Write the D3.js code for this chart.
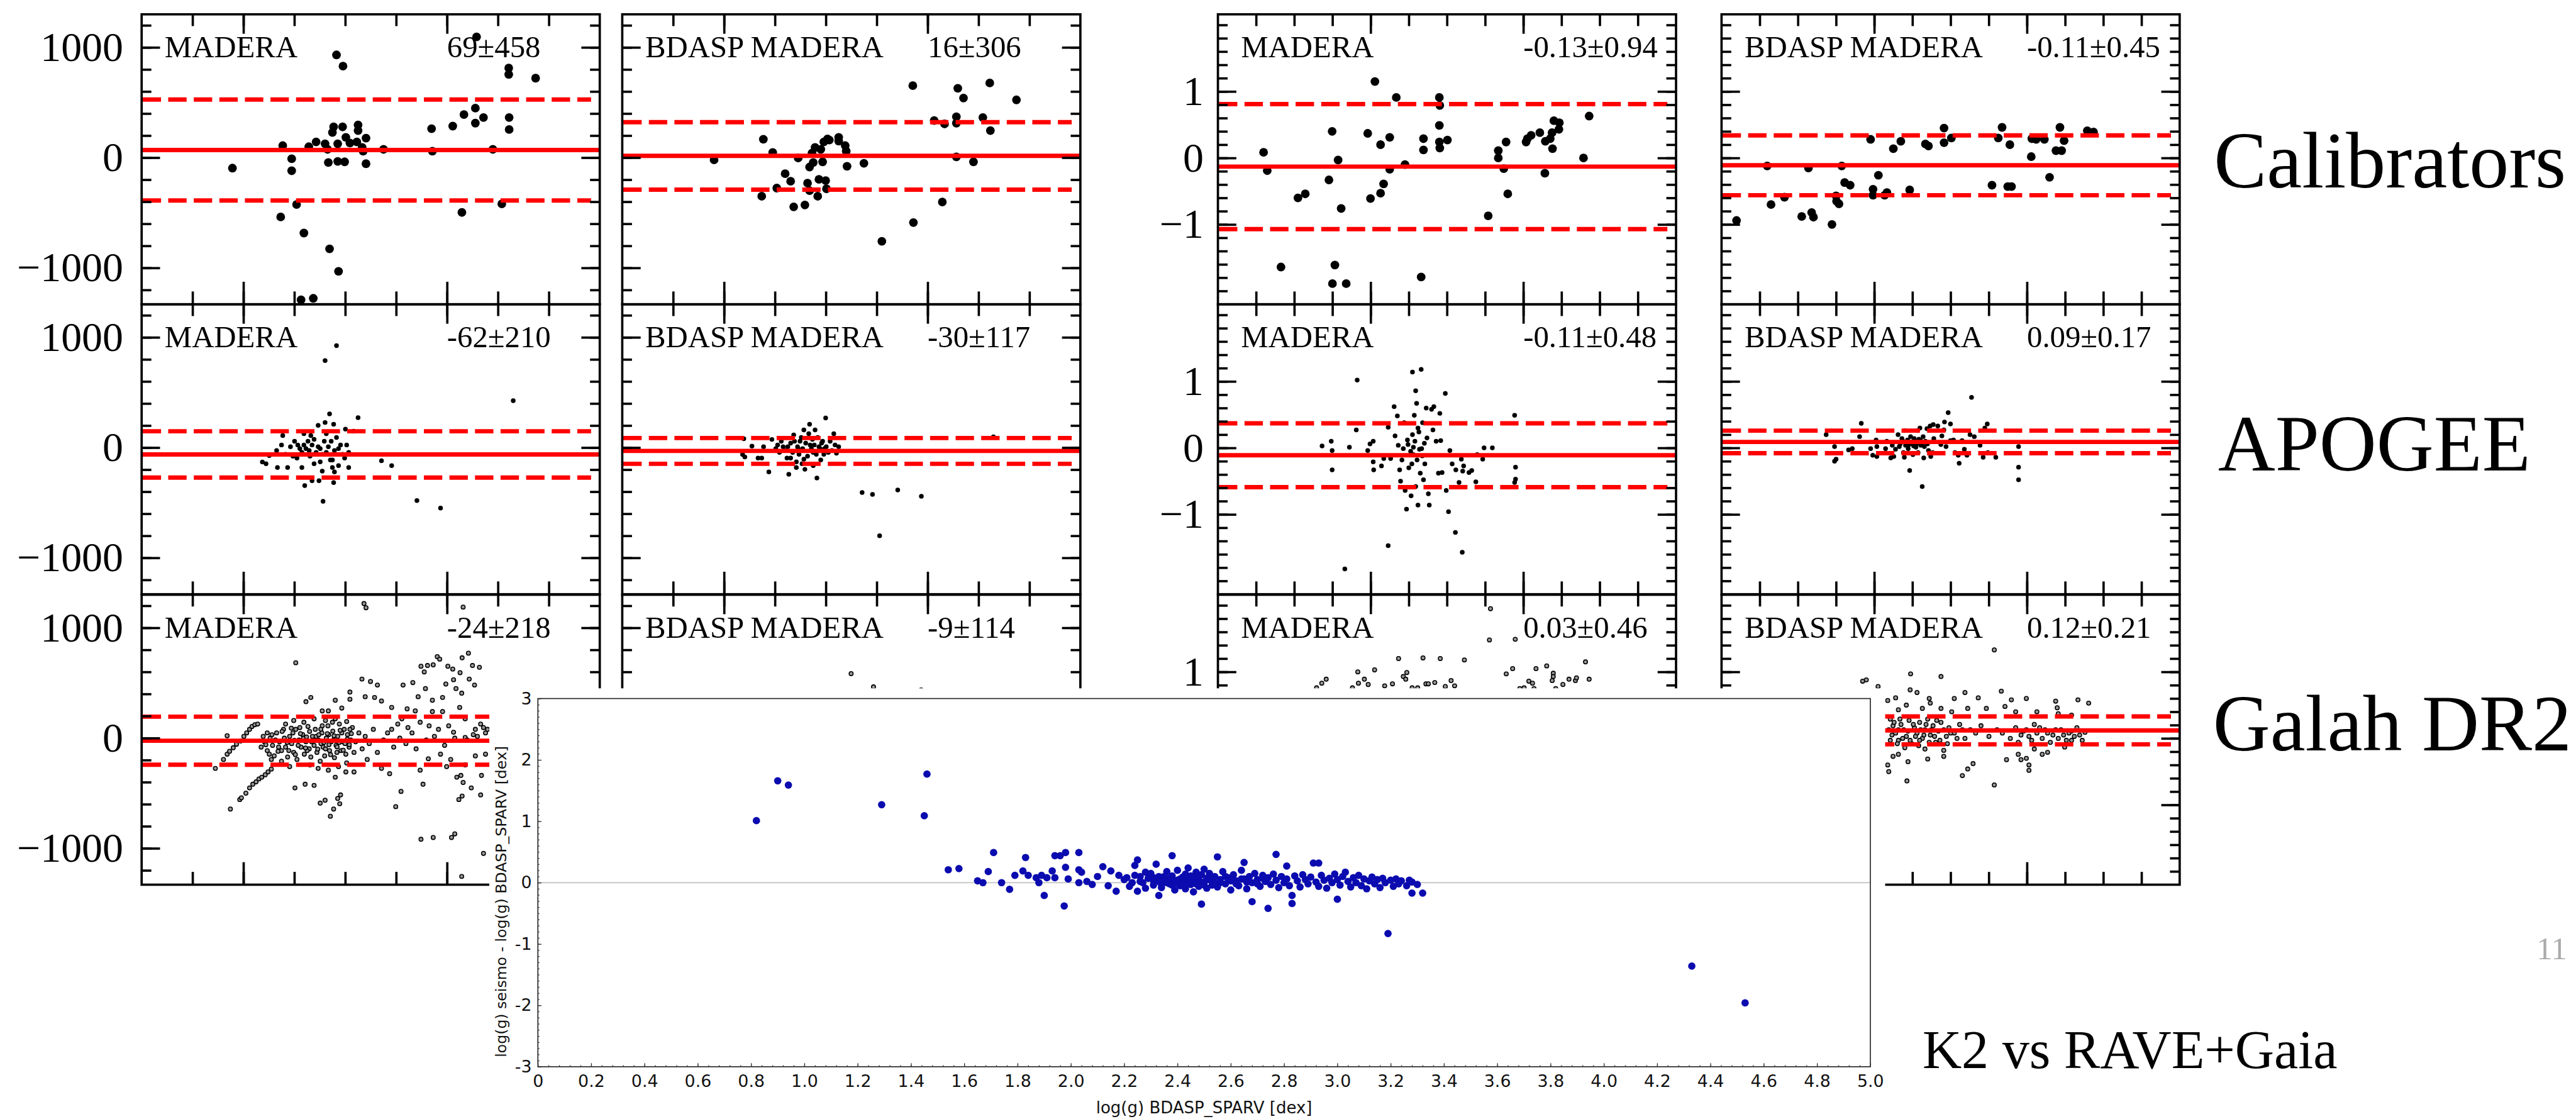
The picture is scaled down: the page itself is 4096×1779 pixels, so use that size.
<!DOCTYPE html>
<html>
<head>
<meta charset="utf-8">
<script src="https://cdn.jsdelivr.net/npm/d3@7"></script>
<style>
  body { margin: 0; background: #fff; }
  svg { display: block; }
</style>
</head>
<body>
<div id="container"></div>
<script>
// ---- data (Teff residuals in K, log g residuals in dex) ----
const rowNames = ['Calibrators', 'APOGEE', 'Galah DR2'];
const panelNames = ['MADERA', 'BDASP MADERA', 'MADERA', 'BDASP MADERA'];
const means = [[69, 16, -0.13, -0.11], [-62, -30, -0.11, 0.09], [-24, -9, 0.03, 0.12]];
const sigmas = [[458, 306, 0.94, 0.45], [210, 117, 0.48, 0.17], [218, 114, 0.46, 0.21]];

const teffTicksMajor = [4000, 5000];
const teffTicksMinor = [3750, 4000, 4250, 4500, 4750, 5000, 5250, 5500];
const loggXTicksMajor = [4000, 5000];
const loggXTicksMinor = [3250, 3500, 3750, 4000, 4250, 4500, 4750, 5000, 5250, 5500, 5750];
const dTeffTicksMajor = [-1000, 0, 1000];
const dTeffTicksMinor = [-1200, -1000, -800, -600, -400, -200, 0, 200, 400, 600, 800, 1000, 1200];
const dLoggTicksMajor = [-1, 0, 1];
const dLoggTicksMinor = [-2, -1.8, -1.6, -1.4, -1.2, -1, -0.8, -0.6, -0.4, -0.2, 0, 0.2, 0.4, 0.6, 0.8, 1, 1.2, 1.4, 1.6, 1.8, 2];
const k2XTicks = [0, 0.2, 0.4, 0.6, 0.8, 1.0, 1.2, 1.4, 1.6, 1.8, 2.0, 2.2, 2.4, 2.6, 2.8, 3.0, 3.2, 3.4, 3.6, 3.8, 4.0, 4.2, 4.4, 4.6, 4.8, 5.0];
const k2YTicks = [-3, -2, -1, 0, 1, 2, 3];

const calTeffMadera = [[3946,-95],[4193,109],[4237,-10],[4237,-119],[4261,-425],[4183,-538],[4297,-684],[4423,-827],[4467,-1031],[4343,-1276],[4283,-1290],[4457,932],[4489,830],[4321,99],[4357,143],[4401,126],[4413,75],[4417,-44],[4437,228],[4443,279],[4463,126],[4463,-34],[4487,279],[4497,-38],[4503,184],[4523,133],[4563,296],[4563,245],[4557,143],[4583,92],[4588,58],[4602,177],[4602,-55],[4688,75],[4924,262],[4928,58],[5028,286],[5083,391],[5139,449],[5139,313],[5179,364],[5145,1095],[5225,75],[5073,-497],[5269,-419],[5303,813],[5303,755],[5435,721],[5305,364],[5305,255]];
const calTeffBdasp = [[3951,-20],[4193,167],[4239,47],[4185,-350],[4259,-276],[4300,-146],[4327,-214],[4342,-446],[4364,-3],[4397,-429],[4410,-231],[4420,-300],[4420,-85],[4432,41],[4438,-44],[4447,92],[4460,-350],[4466,-197],[4475,75],[4484,-38],[4490,143],[4499,-208],[4503,-283],[4508,170],[4517,160],[4563,184],[4563,150],[4595,109],[4600,58],[4604,-78],[4687,-51],[4775,-759],[4927,653],[4930,-589],[5032,337],[5083,306],[5072,-402],[5141,371],[5141,313],[5141,7],[5148,629],[5176,541],[5225,-38],[5271,364],[5305,677],[5308,245],[5436,524]];
const calLoggMadera = [[3299,0.085],[3323,-0.19],[3413,-1.64],[3524,-0.60],[3572,-0.54],[3727,-0.33],[3748,0.40],[3766,-1.61],[3750,-1.89],[3840,-1.89],[3787,-0.03],[3807,-0.76],[3981,0.37],[3999,-0.61],[4028,1.15],[4065,0.20],[4065,-0.53],[4085,-0.39],[4125,0.31],[4125,-0.17],[4168,0.91],[4225,-0.10],[4331,-1.79],[4346,0.29],[4346,0.12],[4450,0.91],[4453,0.79],[4450,0.49],[4450,0.24],[4453,0.15],[4503,0.27],[4770,-0.87],[4836,0.11],[4836,0.0],[4872,-0.16],[4887,0.24],[4898,-0.54],[5018,0.24],[5027,0.29],[5051,0.34],[5108,0.38],[5141,-0.23],[5144,0.25],[5176,0.29],[5188,0.38],[5191,0.14],[5200,0.56],[5233,0.43],[5236,0.53],[5394,0.0],[5431,0.63]];
const calLoggBdasp = [[3098,-0.94],[3299,-0.12],[3324,-0.70],[3412,-0.59],[3525,-0.88],[3569,-0.15],[3590,-0.82],[3602,-0.89],[3723,-1.00],[3750,-0.57],[3753,-0.65],[3769,-0.69],[3787,-0.12],[3806,-0.37],[3842,-0.41],[3976,0.28],[3992,-0.47],[3992,-0.56],[4027,-0.26],[4068,-0.56],[4083,-0.52],[4125,0.14],[4174,0.25],[4232,-0.48],[4335,0.21],[4355,0.18],[4457,0.45],[4457,0.23],[4505,0.30],[4771,-0.41],[4812,0.30],[4837,0.46],[4874,-0.43],[4899,-0.43],[4888,0.20],[5028,0.02],[5032,0.29],[5060,0.28],[5114,0.28],[5148,-0.29],[5190,0.11],[5216,0.46],[5227,0.11],[5243,0.26],[5395,0.41],[5436,0.39]];

const apoTeffMadera = [[4457,925],[4401,789],[5325,425],[4563,272],[4423,306],[4401,228],[4443,211],[4501,167],[4541,149],[4367,201],[4297,126],[4193,109],[4187,24],[4163,-27],[4127,-72],[4093,-130],[4111,-146],[4167,-180],[4217,-180],[4243,-78],[4287,-180],[4301,-344],[4337,-300],[4371,-300],[4391,-487],[4443,-317],[4447,-221],[4467,-163],[4517,-180],[4678,-119],[4728,-163],[4852,-480],[4968,-548],[4267,24],[4307,-10],[4327,-78],[4347,75],[4377,-10],[4397,58],[4407,-44],[4427,-112],[4457,92],[4467,-10],[4487,-61],[4507,24],[4317,58],[4287,-44],[4263,-95],[4347,-146],[4387,-214],[4437,-180],[4231,7],[4251,58],[4277,-10],[4297,24],[4323,-27],[4337,24],[4357,-44],[4367,7],[4387,-61],[4417,7],[4431,58],[4447,-27],[4477,24],[4497,-95],[4517,-44],[4207,-61],[4331,109],[4407,126],[4437,-112],[4377,-129]];
const apoTeffBdasp = [[4097,81],[4091,-62],[4102,-85],[4137,13],[4167,-95],[4185,-95],[4194,7],[4220,-221],[4235,74],[4254,-10],[4272,-44],[4290,7],[4309,-95],[4318,-242],[4327,41],[4342,115],[4355,-180],[4364,-10],[4373,58],[4383,-146],[4392,160],[4397,-197],[4420,211],[4423,24],[4438,-44],[4447,160],[4456,-276],[4466,7],[4475,-112],[4484,58],[4493,-10],[4499,269],[4512,-44],[4539,126],[4563,7],[4678,-408],[4729,-425],[4764,-800],[4853,-385],[4969,-442],[5323,98],[4263,24],[4281,58],[4300,-27],[4313,7],[4337,-44],[4346,58],[4361,7],[4368,-61],[4379,92],[4386,-10],[4401,41],[4410,-78],[4416,126],[4429,-10],[4434,75],[4443,24],[4453,-61],[4460,92],[4471,-10],[4479,41],[4490,-61],[4502,7],[4521,58],[4530,-27],[4545,24],[4552,-51],[4327,-95],[4355,-129],[4438,-163],[4392,-105]];
const apoLoggMadera = [[3682,0.03],[3742,0.10],[3748,-0.04],[3748,-0.33],[3861,0.01],[3912,1.02],[3906,0.27],[3981,-0.04],[3996,0.06],[4017,0.10],[4017,-0.21],[4020,-0.33],[4071,-0.27],[4086,-0.16],[4115,0.31],[4115,-1.47],[4131,-0.16],[4154,0.62],[4160,0.18],[4175,0.48],[4181,0.04],[4190,-0.33],[4196,-0.50],[4205,-0.18],[4214,-0.01],[4220,0.38],[4226,-0.64],[4235,-0.92],[4241,0.12],[4250,-0.30],[4265,-0.72],[4274,0.20],[4274,1.14],[4280,0.01],[4280,-0.10],[4286,0.49],[4295,0.86],[4295,-0.58],[4301,0.67],[4304,-0.18],[4310,-0.86],[4316,0.24],[4325,-0.38],[4331,1.18],[4334,-0.01],[4340,0.38],[4346,-0.48],[4355,-0.24],[4364,0.60],[4369,0.15],[4378,-0.69],[4384,-0.86],[4399,0.58],[4408,0.27],[4414,0.62],[4429,0.10],[4444,-0.38],[4453,0.52],[4459,0.11],[4468,-0.37],[4489,0.82],[4495,-0.64],[4510,-0.96],[4519,-0.04],[4534,-0.24],[4555,-1.27],[4558,-0.33],[4579,-0.52],[4594,-0.17],[4600,-1.57],[4603,-0.35],[4609,-0.27],[4644,-0.37],[4662,-0.34],[4689,-0.51],[4698,-0.10],[4734,-0.17],[4743,0.00],[4797,0.00],[4943,0.49],[4949,-0.29],[4949,-0.47],[4943,-0.52],[3831,-1.82],[4245,0.05],[4262,-0.05],[4290,0.10],[4320,-0.02],[4352,0.07],[4270,-0.24],[4310,0.30],[4338,-0.12]];
const apoLoggBdasp = [[3685,0.20],[3740,0.02],[3740,-0.20],[3750,-0.17],[3832,-0.03],[3856,-0.01],[3904,0.17],[3915,0.37],[3976,-0.01],[3990,-0.11],[4017,-0.13],[4017,0.02],[4012,0.12],[4074,-0.01],[4082,0.10],[4108,-0.15],[4118,0.04],[4128,-0.13],[4139,-0.02],[4156,0.20],[4164,0.02],[4181,0.14],[4191,-0.07],[4197,-0.14],[4201,0.26],[4211,0.08],[4222,-0.01],[4232,-0.34],[4238,0.17],[4246,0.07],[4253,-0.10],[4262,0.14],[4273,0.01],[4283,0.26],[4287,-0.07],[4299,0.30],[4303,0.11],[4314,-0.58],[4320,0.17],[4324,-0.15],[4328,0.02],[4345,0.29],[4355,-0.04],[4366,0.33],[4370,-0.13],[4382,-0.07],[4386,0.35],[4390,0.14],[4416,0.33],[4436,0.05],[4443,0.18],[4456,0.27],[4460,0.39],[4470,0.02],[4484,0.53],[4499,0.36],[4499,0.11],[4519,0.12],[4529,-0.07],[4550,-0.11],[4556,-0.23],[4575,0.11],[4590,-0.02],[4607,-0.11],[4627,0.20],[4637,0.76],[4655,0.17],[4693,0.04],[4713,-0.14],[4724,0.30],[4740,0.36],[4744,-0.07],[4796,-0.14],[4945,0.02],[4945,-0.29],[4945,-0.48],[4170,0.06],[4185,0.11],[4205,0.04],[4218,0.12],[4228,0.05],[4242,0.09],[4258,0.03],[4268,0.10],[4278,0.06],[4292,0.13],[4305,0.04],[4318,0.08],[4335,0.10],[4348,0.06]];

const galTeffMadera = [[3862,-275],[3902,-194],[3920,-146],[3932,-120],[3950,-88],[3966,-56],[3986,-27],[4002,15],[4016,47],[4030,79],[4042,105],[4056,121],[4070,127],[3920,21],
  [3936,-644],[3982,-558],[3990,-542],[4012,-500],[4030,-452],[4046,-419],[4062,-397],[4076,-371],[4090,-355],[4107,-333],[4121,-307],[4137,-281],
  [4257,683],[4331,368],[4307,330],[4387,246],[4417,246],[4451,343],[4483,272],[4523,417],[4523,352],[4582,535],[4624,513],[4658,481],[4598,375],[4644,368],[4678,336],[4728,278],[4784,481],[4832,503],[4858,375],[4872,651],[4888,600],[4904,658],[4932,664],[4952,738],[4964,716],[4994,490],[5004,651],[5028,626],[5032,529],[5044,449],[5064,593],[5074,728],[5105,770],[5109,535],[5125,658],[5135,481],[5159,642],[5072,407],[5062,278],[4978,368],[4928,343],[4894,449],[4844,246],[4804,265],[4778,175],[4928,240],[4978,240],[5032,53],[5089,175],[5139,79],[5165,127],[5189,47],[4728,79],[4758,127],[4808,95],[4868,143],[4912,111],[4958,79],[5008,111],[5089,5],[5149,15],[5199,79],[4592,1220],[4602,1182],[5079,1188],
  [4253,-452],[4303,-419],[4347,-429],[4377,-590],[4401,-564],[4427,-709],[4443,-644],[4463,-548],[4473,-596],[4477,-516],[4451,-355],[4503,-307],[4543,-307],[4608,-194],[4678,-275],[4718,-323],[4748,-622],[4774,-484],[4868,-291],[4882,-419],[4908,-188],[4968,-146],[4998,-259],[5018,-194],[5048,-355],[5068,-339],[5079,-403],[5058,-558],[5074,-526],[5119,-452],[5165,-516],[5179,-1046],[4872,-918],[4932,-902],[5022,-902],[5038,-869],[5072,-1255],[5089,-243],[5139,-162],[5169,-339],[5189,-146],
  [4087,-82],[4103,-34],[4117,-114],[4131,-1],[4143,-66],[4151,-162],[4163,47],[4177,-34],[4187,-114],[4197,79],[4207,-82],[4217,-172],[4227,15],[4237,-50],[4247,-130],[4257,79],[4263,-194],[4273,-18],[4283,-82],[4291,31],[4299,-146],[4307,-34],[4317,105],[4323,-98],[4331,-172],[4339,15],[4347,-66],[4353,79],[4361,-130],[4369,-18],[4377,-210],[4385,47],[4391,-82],[4399,-162],[4407,-1],[4415,111],[4423,-114],[4431,-34],[4439,63],[4447,-178],[4455,-66],[4463,15],[4471,127],[4479,-114],[4487,-34],[4495,79],[4503,-146],[4511,31],[4519,-82],[4527,-18],[4535,95],[4543,-130],
  [4207,127],[4247,159],[4297,143],[4347,175],[4403,159],[4451,175],[4507,150],[4327,-243],[4367,-275],[4417,-291],[4467,-259],[4507,-226],[4227,-259],[4187,-210],[4137,-194],[4117,47],[4551,-34],[4567,47],[4583,-98],[4598,15],[4618,-50],[4638,79],[4658,-130],[4688,-18],[4708,47],[4738,-82],[4768,-1],[4798,-50],[4828,47],[4848,-98],[4898,-18],[4938,15],[4988,-66],[5038,-1],[5099,-18],[5129,31],[5179,95],
  [4097,15],[4127,-146],[4157,-18],[4173,-82],[4201,-1],[4223,-114],[4243,47],[4269,-66],[4295,-1],[4313,-114],[4335,-34],[4357,15],[4381,-50],[4403,-98],[4419,31],[4443,-18],[4459,-130],[4483,47],[4499,-50],[4523,79],[4277,95],[4387,111],[4437,143],
  [4110,-60],[4140,30],[4170,-120],[4190,60],[4215,-40],[4235,90],[4255,-150],[4280,40],[4305,-90],[4325,60],[4345,-20],[4365,-100],[4380,80],[4395,-40],[4412,40],[4428,-150],[4445,20],[4460,-80],[4475,70],[4490,-110],[4510,-10],[4530,40],[4250,-20],[4310,10],[4370,30],[4420,-60],[4470,-40],[4520,-60]];
const galTeffBdasp = [[4624,584],[4734,464],[4968,436]];
const galLoggMadera = [[4785,1.95],[4778,1.48],[4947,1.49],[4183,1.20],[4343,1.21],[4456,1.20],[4614,1.18],[5407,1.15],[3916,1.00],[4026,1.03],[3709,0.89],[3680,0.83],[3646,0.76],[3959,0.89],[3920,0.83],[3984,0.81],[4092,0.79],[4143,0.82],[4214,0.93],[4237,0.99],[4230,0.89],[4272,0.76],[4308,0.76],[4362,0.82],[4378,0.82],[4420,0.84],[4527,0.87],[4550,0.79],[4489,0.78],[3881,0.76],[4888,0.97],[4930,1.05],[5083,1.05],[5153,1.09],[5196,0.98],[5196,0.93],[5189,0.87],[5036,0.86],[5060,0.83],[5259,0.81],[5299,0.89],[5341,0.87],[5348,0.91],[5431,0.89],[4977,0.75],[5005,0.76],[5070,0.75],[5212,0.75]];
const galLoggBdasp = [[3924,0.86],[3948,0.88],[4025,0.78],[4786,1.33],[4238,0.97],[4437,0.93],[4235,0.73],[4280,0.69],[4360,0.60],[4524,0.60],[4594,0.69],[4681,0.61],[4832,0.71],[4898,0.58],[4996,0.60],[5188,0.56],[5198,0.46],[5334,0.58],[5404,0.53],[4088,0.57],[4140,0.61],[4158,0.43],[4210,0.50],[4315,0.45],[4367,0.53],[4437,0.45],[4507,0.40],[4612,0.45],[4734,0.45],[4856,0.48],[4926,0.40],[5065,0.40],[5205,0.37],[5292,0.35],
  [4088,-0.40],[4095,-0.50],[4123,-0.27],[4158,-0.24],[4214,-0.64],[4221,-0.35],[4332,-0.16],[4350,-0.31],[4455,-0.27],[4455,-0.18],[4577,-0.56],[4612,-0.46],[4647,-0.38],[4786,-0.70],[4866,-0.32],[4943,-0.24],[4961,-0.32],[4996,-0.30],[5013,-0.48],[5013,-0.40],[5048,-0.16],[5100,-0.24],[5135,-0.21],[5247,-0.13],[5292,-0.03],
  [4105,0.29],[4123,0.19],[4140,0.08],[4158,-0.03],[4175,0.21],[4193,0.13],[4210,0.03],[4228,0.27],[4245,-0.08],[4263,0.16],[4280,0.08],[4297,0.24],[4315,0.00],[4332,0.13],[4350,0.29],[4367,0.05],[4385,0.19],[4402,-0.06],[4420,0.11],[4437,0.24],[4472,0.03],[4489,0.16],[4524,0.08],[4559,0.21],[4594,0.00],[4629,0.13],[4664,0.08],[4699,0.19],[4751,0.03],[4804,0.13],[4839,0.08],[4891,0.00],[4926,0.16],[4961,0.05],[4996,0.13],[5031,-0.03],[5048,0.21],[5065,0.08],[5100,0.00],[5118,0.13],[5153,-0.06],[5170,0.05],[5205,0.00],[5223,0.13],[5258,-0.03],[5275,0.08],[5310,0.03],[5327,0.16],[5345,0.05],[4105,-0.03],[4158,0.13],[4297,-0.03],
  [4095,0.13],[4116,0.05],[4130,0.24],[4151,-0.08],[4168,0.29],[4186,0.00],[4200,-0.14],[4221,0.11],[4235,-0.03],[4256,0.21],[4270,0.03],[4291,-0.11],[4304,0.13],[4325,0.05],[4339,0.21],[4360,-0.06],[4374,0.13],[4395,0.03],[4409,0.27],[4430,-0.03],[4455,0.13],[4479,-0.08],[4500,0.08],[4542,0.00],[4577,0.13],
  [4943,-0.06],[4978,0.11],[5013,0.03],[5083,0.16],[5135,0.08],[5188,0.13],[5240,0.05],[5292,0.11],[5362,-0.03],[5380,0.09]];

// K2 seismic log g minus BDASP_SPARV log g, against BDASP_SPARV log g
const k2Points = [[0.82,1.01],[0.90,1.66],[0.94,1.59],[1.29,1.27],[1.46,1.77],[1.45,1.09],[3.19,-0.83],[4.33,-1.36],[4.53,-1.96],
  [1.54,0.21],[1.58,0.23],[1.65,0.03],[1.67,0.0],[1.69,0.18],[1.71,0.49],[1.74,0.0],[1.77,-0.11],[1.79,0.12],[1.82,0.19],[1.83,0.41],[1.84,0.12],[1.87,0.08],[1.88,0.0],[1.89,0.12],[1.90,-0.21],[1.91,0.08],[1.93,0.19],[1.94,0.44],[1.94,0.08],[1.96,0.44],[1.975,-0.38],[1.98,0.25],[1.98,0.49],[1.99,0.06],[2.03,0.49],[2.03,0.21],[2.04,0.17],[2.03,0.0],[2.06,0.02],[2.08,-0.03],[2.10,0.1],[2.12,0.26],[2.14,-0.05],[2.15,0.19],[2.17,-0.14],[2.18,0.12],[2.21,0.08],[2.23,0.0],[2.24,0.28],[2.25,-0.14],[2.25,0.37],[2.26,0.02],[2.28,0.17],[2.31,0.08],[2.32,0.3],[2.33,-0.21],[2.34,-0.03],[2.38,0.44],[2.38,0.06],
  [2.20,0.05],[2.22,-0.06],[2.24,0.12],[2.27,0.0],[2.28,-0.09],[2.30,0.15],[2.31,0.03],[2.33,0.1],[2.34,-0.08],[2.35,0.05],[2.36,0.18],[2.37,-0.02],[2.38,0.11],[2.39,-0.12],[2.40,0.04],[2.40,0.2],[2.41,-0.05],[2.42,0.09],[2.42,0.0],[2.43,0.14],[2.43,-0.1],[2.44,0.06],[2.44,0.24],[2.45,-0.03],[2.45,0.11],[2.46,0.02],[2.46,-0.15],[2.47,0.08],[2.47,0.17],[2.48,-0.06],[2.48,0.04],[2.49,0.13],[2.49,-0.35],[2.50,0.0],[2.50,0.22],[2.51,0.07],[2.51,-0.09],[2.52,0.15],[2.53,0.02],[2.53,-0.04],[2.54,0.1],[2.55,0.42],[2.55,-0.07],[2.56,0.05],[2.57,0.18],[2.58,-0.02],[2.59,0.08],[2.60,-0.12],[2.61,0.13],[2.62,0.03],[2.63,-0.05],[2.64,0.2],[2.65,0.33],[2.65,0.06],[2.66,-0.1],[2.67,0.1],[2.68,-0.31],[2.68,0.0],[2.69,0.15],[2.70,0.05],[2.71,-0.06],[2.72,0.12],[2.73,0.02],[2.74,-0.42],[2.74,0.08],[2.75,-0.03],[2.76,0.14],[2.77,0.46],[2.77,0.04],[2.78,-0.08],[2.79,0.1],[2.80,0.0],[2.81,0.27],[2.81,0.06],[2.82,-0.05],[2.83,-0.34],[2.83,-0.21],[2.84,0.11],[2.85,0.03],[2.86,-0.07],[2.87,0.13],[2.88,0.05],[2.89,-0.02],[2.90,0.09],[2.91,0.32],[2.92,0.01],[2.93,0.32],[2.93,-0.06],[2.94,0.12],[2.95,0.04],[2.96,-0.09],[2.97,0.07],[2.98,0.0],[2.99,0.14],[3.00,-0.27],[3.00,0.05],[3.01,-0.04],[3.02,0.1],[3.03,0.17],[3.04,0.02],[3.05,-0.07],[3.06,0.08],[3.07,0.0],[3.08,0.12],[3.09,-0.05],[3.10,0.06],[3.11,-0.1],[3.12,0.03],[3.13,0.09],[3.14,-0.02],[3.15,0.05],[3.16,-0.08],[3.17,0.07],[3.18,0.0],[3.20,0.04],[3.21,-0.06],[3.22,0.06],[3.23,-0.02],[3.24,0.03],[3.26,-0.05],[3.27,0.04],[3.28,0.01],[3.28,-0.17],[3.30,-0.03],[3.32,-0.17],
  [2.36,0.0],[2.37,0.07],[2.38,-0.04],[2.39,0.02],[2.40,-0.01],[2.41,0.06],[2.42,-0.03],[2.43,0.03],[2.44,-0.01],[2.45,0.05],[2.46,0.08],[2.47,-0.02],[2.48,0.1],[2.49,0.01],[2.50,-0.04],[2.52,0.05],[2.54,-0.01],[2.56,0.0],[2.58,0.1],[2.60,0.03],[2.35,0.1],[2.33,0.02],[2.31,-0.04],[2.29,0.07],[2.26,0.1],[2.62,-0.02],[2.64,0.06],[2.66,0.01],[2.70,-0.02],[2.72,0.07]];

const panelSets = [
  [calTeffMadera, calTeffBdasp, calLoggMadera, calLoggBdasp],
  [apoTeffMadera, apoTeffBdasp, apoLoggMadera, apoLoggBdasp],
  [galTeffMadera, galTeffBdasp, galLoggMadera, galLoggBdasp]
];

// ---- layout, in reference pixels; the whole drawing is scaled down ----
const S = 0.813;
const panelLeft = [277, 1217, 2382, 3367];
const rowTop = [28, 595, 1163];
const PW = 896, PH = 567;
const serif = '"Liberation Serif", "Times New Roman", serif';
const sans = '"DejaVu Sans", Verdana, sans-serif';

const svg = d3.select('#container').append('svg')
  .attr('width', 4096)
  .attr('height', 1779);
svg.append('rect').attr('width', 4096).attr('height', 1779).attr('fill', '#fff');
const root = svg.append('g').attr('transform', `scale(${S})`);
const defs = svg.append('defs');

const xTeff = d3.scaleLinear().domain([3500, 5750]).range([0, PW]);
const xLoggPanel = d3.scaleLinear().domain([3000, 6000]).range([0, PW]);
const yTeff = d3.scaleLinear().domain([-1330, 1300]).range([PH, 0]);
const yLogg = d3.scaleLinear().domain([-2.2, 2.16]).range([PH, 0]);

const pointStyle = [
  { r: 8.5, fill: '#000', stroke: 'none', sw: 0 },
  { r: 4.6, fill: '#000', stroke: 'none', sw: 0 },
  { r: 3.9, fill: '#999', stroke: '#000', sw: 1.9 }
];

function tickSet(g, axisFn, scale, values, len) {
  g.call(axisFn(scale).tickValues(values).tickSize(-len).tickFormat(''))
    .call(a => a.select('.domain').remove());
  g.selectAll('.tick line').attr('stroke', '#000').attr('stroke-width', 4.5);
}

rowTop.forEach((top, ri) => {
  panelLeft.forEach((left, ci) => {
    const isTeff = ci < 2;
    const x = isTeff ? xTeff : xLoggPanel;
    const y = isTeff ? yTeff : yLogg;
    const g = root.append('g').attr('transform', `translate(${left},${top})`);
    const clipId = `clip-${ri}-${ci}`;
    defs.append('clipPath').attr('id', clipId)
      .append('rect').attr('width', PW).attr('height', PH);
    const plot = g.append('g').attr('clip-path', `url(#${clipId})`);
    const st = pointStyle[ri];

    plot.selectAll('circle')
      .data(panelSets[ri][ci])
      .join('circle')
      .attr('cx', d => x(d[0]))
      .attr('cy', d => y(d[1]))
      .attr('r', st.r)
      .attr('fill', st.fill)
      .attr('stroke', st.stroke)
      .attr('stroke-width', st.sw);

    // mean and +-1 sigma
    const m = means[ri][ci], s = sigmas[ri][ci];
    plot.append('line')
      .attr('x1', 0).attr('x2', PW)
      .attr('y1', y(m)).attr('y2', y(m))
      .attr('stroke', '#ff0000').attr('stroke-width', 8.5);
    [m + s, m - s].forEach(v => {
      plot.append('line')
        .attr('x1', 2).attr('x2', PW - 17)
        .attr('y1', y(v)).attr('y2', y(v))
        .attr('stroke', '#ff0000').attr('stroke-width', 8.5)
        .attr('stroke-dasharray', '36,14');
    });

    g.append('rect').attr('width', PW).attr('height', PH)
      .attr('fill', 'none').attr('stroke', '#000').attr('stroke-width', 4.5);

    const xMinor = isTeff ? teffTicksMinor : loggXTicksMinor;
    const xMajor = isTeff ? teffTicksMajor : loggXTicksMajor;
    const yMinor = isTeff ? dTeffTicksMinor : dLoggTicksMinor;
    const yMajor = isTeff ? dTeffTicksMajor : dLoggTicksMajor;

    tickSet(g.append('g').attr('transform', `translate(0,${PH})`), d3.axisBottom, x, xMinor, 25);
    tickSet(g.append('g').attr('transform', `translate(0,${PH})`), d3.axisBottom, x, xMajor, 44);
    tickSet(g.append('g'), d3.axisTop, x, xMinor, 23);
    tickSet(g.append('g'), d3.axisTop, x, xMajor, 38);
    tickSet(g.append('g'), d3.axisLeft, y, yMinor, 19);
    tickSet(g.append('g'), d3.axisLeft, y, yMajor, 36);
    tickSet(g.append('g').attr('transform', `translate(${PW},0)`), d3.axisRight, y, yMinor, 19);
    tickSet(g.append('g').attr('transform', `translate(${PW},0)`), d3.axisRight, y, yMajor, 36);

    if (ci === 0 || ci === 2) {
      const lab = g.append('g')
        .call(d3.axisLeft(y).tickValues(yMajor).tickSize(0)
          .tickPadding(ci === 0 ? 36 : 28).tickFormat(d3.format('d')));
      lab.select('.domain').remove();
      lab.selectAll('text')
        .attr('font-family', serif).attr('font-size', 81).attr('fill', '#000');
    }

    g.append('text')
      .attr('x', 45).attr('y', 84)
      .attr('font-family', serif).attr('font-size', 60)
      .text(panelNames[ci]);
    g.append('text')
      .attr('x', x(xMajor[1])).attr('y', 84)
      .attr('font-family', serif).attr('font-size', 60)
      .text(`${m}±${s}`);
  });
});

// row titles
const rowTitleX = [4330, 4338, 4328];
const rowTitleY = [367, 920, 1467];
rowNames.forEach((t, i) => {
  root.append('text')
    .attr('x', rowTitleX[i]).attr('y', rowTitleY[i])
    .attr('font-family', serif).attr('font-size', 155)
    .text(t);
});

// ---- inset: K2 vs RAVE+Gaia ----
root.append('rect')
  .attr('x', 957).attr('y', 1346)
  .attr('width', 2730).attr('height', 841)
  .attr('fill', '#fff');

const xK = d3.scaleLinear().domain([0, 5]).range([1052, 3658]);
const yK = d3.scaleLinear().domain([-3, 3]).range([2086, 1366]);

root.append('line')
  .attr('x1', xK(0)).attr('x2', xK(5))
  .attr('y1', yK(0)).attr('y2', yK(0))
  .attr('stroke', '#c8c8c8').attr('stroke-width', 2.5);

root.append('g').selectAll('circle')
  .data(k2Points)
  .join('circle')
  .attr('cx', d => xK(d[0]))
  .attr('cy', d => yK(d[1]))
  .attr('r', 7.2)
  .attr('fill', '#0b0bb0');

root.append('rect')
  .attr('x', xK(0)).attr('y', yK(3))
  .attr('width', xK(5) - xK(0)).attr('height', yK(-3) - yK(3))
  .attr('fill', 'none').attr('stroke', '#222').attr('stroke-width', 2);

const xMinorK = d3.range(0, 5.001, 0.04);
const yMinorK = d3.range(-3, 3.001, 0.1);
const kAxes = root.append('g');
const kx = kAxes.append('g').attr('transform', `translate(0,${yK(-3)})`);
kx.call(d3.axisBottom(xK).tickValues(xMinorK).tickSize(-3).tickFormat(''));
const kxl = kAxes.append('g').attr('transform', `translate(0,${yK(-3)})`);
kxl.call(d3.axisBottom(xK).tickValues(k2XTicks).tickSize(-7).tickPadding(16)
  .tickFormat(d => d === 0 ? '0' : d3.format('.1f')(d)));
const ky = kAxes.append('g').attr('transform', `translate(${xK(0)},0)`);
ky.call(d3.axisLeft(yK).tickValues(yMinorK).tickSize(-3).tickFormat(''));
const kyl = kAxes.append('g').attr('transform', `translate(${xK(0)},0)`);
kyl.call(d3.axisLeft(yK).tickValues(k2YTicks).tickSize(-7).tickPadding(12)
  .tickFormat(d => String(d)));
kAxes.selectAll('.domain').remove();
kAxes.selectAll('.tick line').attr('stroke', '#333').attr('stroke-width', 1.6);
kAxes.selectAll('text')
  .attr('font-family', sans).attr('font-size', 33).attr('fill', '#111');

root.append('text')
  .attr('x', (xK(0) + xK(5)) / 2).attr('y', 2177)
  .attr('text-anchor', 'middle')
  .attr('font-family', sans).attr('font-size', 32).attr('fill', '#111')
  .text('log(g) BDASP_SPARV [dex]');
root.append('text')
  .attr('transform', `translate(990,1763) rotate(-90)`)
  .attr('text-anchor', 'middle')
  .attr('font-family', sans).attr('font-size', 29).attr('fill', '#111')
  .text('log(g) seismo - log(g) BDASP_SPARV [dex]');

root.append('text')
  .attr('x', 3760).attr('y', 2088)
  .attr('font-family', serif).attr('font-size', 106)
  .text('K2 vs RAVE+Gaia');

root.append('text')
  .attr('x', 4961).attr('y', 1876)
  .attr('font-family', serif).attr('font-size', 62).attr('fill', '#aaa')
  .text('11');
</script>
</body>
</html>
